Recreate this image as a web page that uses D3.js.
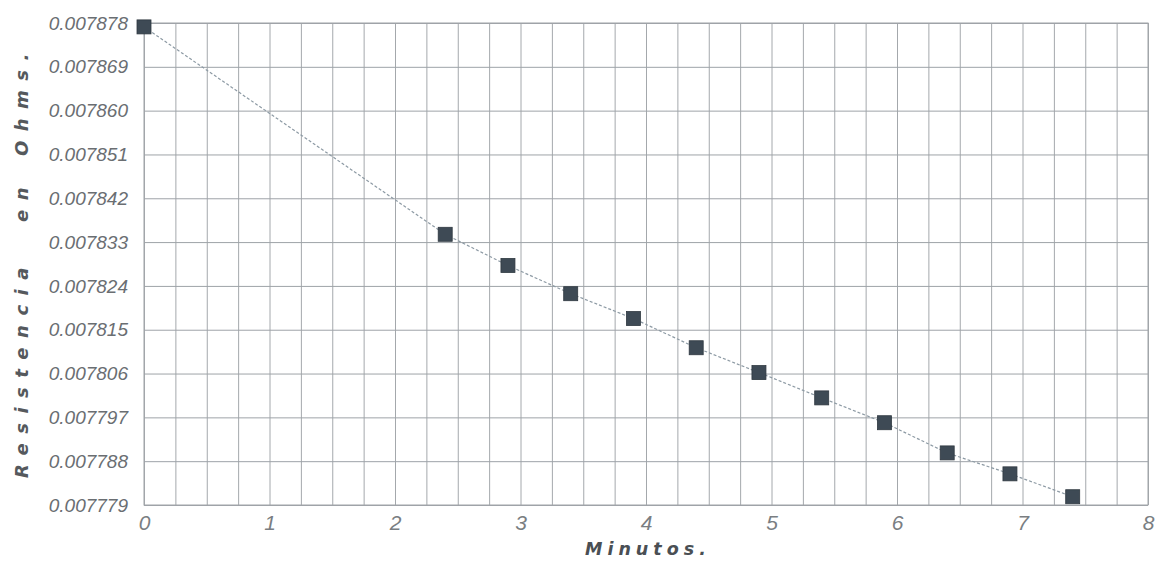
<!DOCTYPE html>
<html>
<head>
<meta charset="utf-8">
<script src="https://cdn.jsdelivr.net/npm/d3@7"></script>
<style>
  body { margin: 0; background: #fff; }
  text { font-family: "Liberation Sans", Arial, sans-serif; }
</style>
</head>
<body>
<div id="chart"></div>
<script>
// data
var minutos = [0, 2.4, 2.9, 3.4, 3.9, 4.4, 4.9, 5.4, 5.9, 6.4, 6.9, 7.4];
var resistencia = [0.0078772, 0.0078346, 0.0078282, 0.0078224, 0.0078173, 0.0078113,
  0.0078062, 0.007801, 0.0077959, 0.0077897, 0.0077854, 0.0077807];
var yTicks = [0.007779, 0.007788, 0.007797, 0.007806, 0.007815, 0.007824,
  0.007833, 0.007842, 0.007851, 0.007860, 0.007869, 0.007878];
var xTicks = [0, 1, 2, 3, 4, 5, 6, 7, 8];
var yTitle = ["Resistencia", "en", "Ohms."];

var margin = { top: 23, right: 8, bottom: 58, left: 144 },
  width = 1156 - margin.left - margin.right,
  height = 563 - margin.top - margin.bottom;

var svg = d3
  .select("#chart")
  .append("svg")
  .attr("width", 1156)
  .attr("height", 563);

var g = svg
  .append("g")
  .attr("transform", "translate(" + margin.left + "," + margin.top + ")");

var xScale = d3.scaleLinear().domain([0, 8]).range([0, width]);
var yScale = d3.scaleLinear().domain([0.007779, 0.007878]).range([height, 0]);

// vertical grid every quarter minute
g.append("g")
  .call(d3.axisBottom(xScale).tickValues(d3.range(0, 8.01, 0.25)).tickSize(-height).tickFormat(""))
  .attr("transform", "translate(0," + height + ")")
  .call(function (a) {
    a.select(".domain").remove();
    a.selectAll("line").style("stroke", "#a4a8ac").style("stroke-width", 1);
  });

// horizontal grid at every label
g.append("g")
  .call(d3.axisLeft(yScale).tickValues(yTicks).tickSize(-width).tickFormat(""))
  .call(function (a) {
    a.select(".domain").remove();
    a.selectAll("line").style("stroke", "#9ea3a8").style("stroke-width", 1);
  });

g.append("rect")
  .attr("width", width)
  .attr("height", height)
  .style("fill", "none")
  .style("stroke", "#a0a4a8");

// y labels
g.append("g")
  .call(d3.axisLeft(yScale).tickValues(yTicks).tickSize(0).tickPadding(16).tickFormat(d3.format(".6f")))
  .call(function (a) {
    a.select(".domain").remove();
    a.selectAll("text")
      .style("font-size", "19px")
      .style("font-style", "italic")
      .style("fill", "#6a6e72");
  });

// x labels
g.append("g")
  .attr("transform", "translate(0," + height + ")")
  .call(d3.axisBottom(xScale).tickValues(xTicks).tickSize(0).tickPadding(10).tickFormat(d3.format("d")))
  .call(function (a) {
    a.select(".domain").remove();
    a.selectAll("text")
      .style("font-size", "21px")
      .style("font-style", "italic")
      .style("fill", "#7a7e82");
  });

var pts = minutos.map(function (d, i) { return [d, resistencia[i]]; });

g.append("path")
  .datum(pts)
  .attr("d", d3.line()
    .x(function (d) { return xScale(d[0]); })
    .y(function (d) { return yScale(d[1]); }))
  .style("fill", "none")
  .style("stroke", "#8d9aa4")
  .style("stroke-width", 1.2)
  .style("stroke-dasharray", "3,2");

g.selectAll("rect.pt")
  .data(pts)
  .enter()
  .append("rect")
  .attr("class", "pt")
  .attr("x", function (d) { return xScale(d[0]) - 7; })
  .attr("y", function (d) { return yScale(d[1]) - 7; })
  .attr("width", 14)
  .attr("height", 14)
  .style("fill", "#3e4a55")
  .style("stroke", "#2f3840")
  .style("stroke-width", 0.8);

// axis titles (spaced words along the left edge)
var titleY = [478, 222, 156];
svg.selectAll("text.ytitle")
  .data(yTitle)
  .enter()
  .append("text")
  .attr("class", "ytitle")
  .attr("transform", function (d, i) { return "translate(28," + titleY[i] + ") rotate(-90)"; })
  .attr("text-anchor", "start")
  .style("font-family", "'DejaVu Sans', sans-serif")
  .style("font-size", "18px")
  .style("font-weight", "bold")
  .style("font-style", "italic")
  .style("letter-spacing", "9.5px")
  .style("fill", "#55595d")
  .text(function (d) { return d; });

svg.append("text")
  .attr("x", 585)
  .attr("y", 555)
  .attr("text-anchor", "start")
  .style("font-family", "'DejaVu Sans', sans-serif")
  .style("font-size", "17.5px")
  .style("font-weight", "bold")
  .style("font-style", "italic")
  .style("letter-spacing", "5px")
  .style("fill", "#4a4f54")
  .text("Minutos.");
</script>
</body>
</html>
